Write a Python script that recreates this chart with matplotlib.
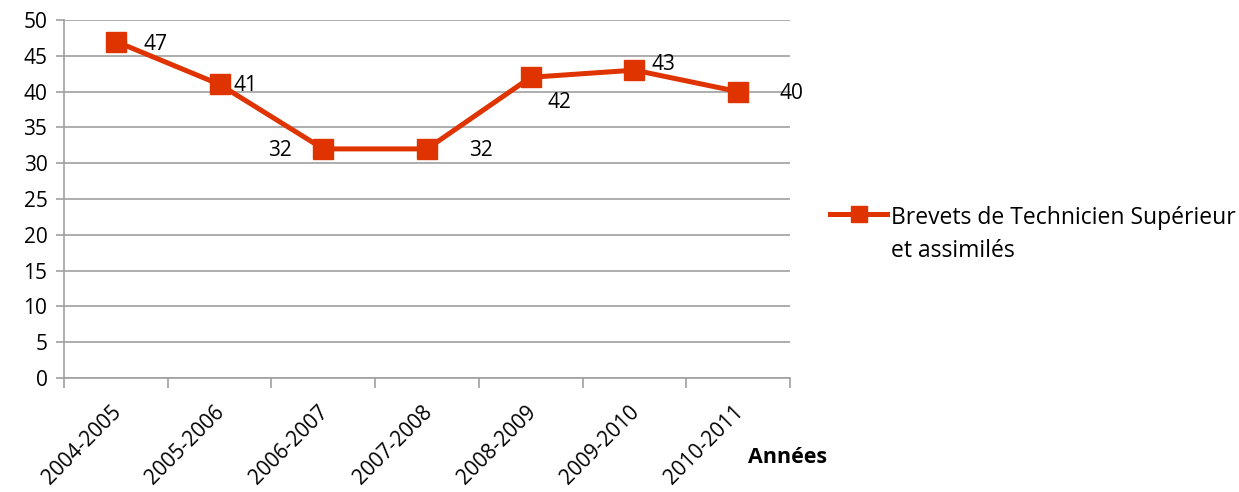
import matplotlib.pyplot as plt
import matplotlib.transforms as mtransforms
from matplotlib.legend_handler import HandlerLine2D
import numpy as np

years = ["2004-2005", "2005-2006", "2006-2007", "2007-2008",
         "2008-2009", "2009-2010", "2010-2011"]
values = [47, 41, 32, 32, 42, 43, 40]
series_name = "Brevets de Technicien Supérieur\net assimilés"

# offset of each data label (points) relative to its marker
label_offsets = [(20, -2), (10, -1), (-23, -1), (30, -1), (12, -18), (12, 4), (30, -1)]

plt.rcParams['font.family'] = ['Open Sans', 'DejaVu Sans']


class HandlerFirstLine(HandlerLine2D):
    # put the legend sample next to the first line of a two-line label
    def create_artists(self, legend, orig_handle, xdescent, ydescent,
                       width, height, fontsize, trans):
        arts = super().create_artists(legend, orig_handle, xdescent, ydescent,
                                      width, height, fontsize, trans)
        for a in arts:
            a.set_ydata(np.asarray(a.get_ydata()) + 15.5)
        return arts


fig = plt.figure(figsize=(12.39, 4.92), dpi=100)
ax = fig.add_axes([0.0517, 0.2317, 0.5859, 0.7276])

red = '#DF3300'
x = list(range(len(years)))
line, = ax.plot(x, values, color=red, lw=3.6, marker='s', markersize=14,
                label=series_name, zorder=3)

for xi, v, off in zip(x, values, label_offsets):
    ax.annotate(str(v), (xi, v), xytext=off, textcoords='offset points',
                ha='left' if off[0] > 0 else 'right', va='center', fontsize=15)

ax.set_xlim(-0.5, len(years) - 0.5)
ax.set_ylim(0, 50)
ax.set_yticks(range(0, 51, 5))
ax.tick_params(axis='y', labelsize=15, length=6, color='#A0A0A0', width=1.2, pad=6)
ax.grid(axis='y', color='#A0A0A0', lw=1.2)
ax.set_axisbelow(True)

ax.set_xticks(x)
ax.set_xticklabels(years, rotation=45, ha='right', rotation_mode='anchor', fontsize=15)
ax.tick_params(axis='x', length=0, pad=17)
shift = mtransforms.ScaledTranslation(-4 / 72, 0, fig.dpi_scale_trans)
for lab in ax.get_xticklabels():
    lab.set_transform(lab.get_transform() + shift)
ax.set_xticks([i - 0.5 for i in range(len(years) + 1)], minor=True)
ax.tick_params(axis='x', which='minor', length=7, color='#A0A0A0', width=1.2)

for s in ['top', 'right']:
    ax.spines[s].set_visible(False)
for s in ['left', 'bottom']:
    ax.spines[s].set_color('#A0A0A0')
    ax.spines[s].set_linewidth(1.2)

fig.text(0.604, 0.071, "Années", fontsize=15.5, fontweight='bold', ha='left', va='center')

leg = fig.legend(handles=[line], loc='center left', bbox_to_anchor=(0.670, 0.523),
                 bbox_transform=fig.transFigure, frameon=False, fontsize=16.5,
                 handlelength=2.5, handletextpad=0.15, borderpad=0, borderaxespad=0,
                 markerscale=0.82, handler_map={line: HandlerFirstLine()})
plt.setp(leg.get_texts(), linespacing=1.5)

fig.savefig("out.png", dpi=100)
